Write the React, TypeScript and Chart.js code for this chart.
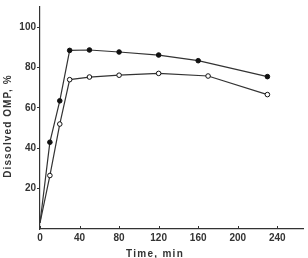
import React, { useEffect, useRef } from "react";
import { Chart, registerables } from "chart.js";

Chart.register(...registerables);

const timeFilled = [0, 10, 20, 30, 50, 80, 120, 160, 230];
const filledValues = [3, 43, 63.5, 88.5, 88.7, 87.7, 86.2, 83.4, 75.5];
const timeOpen = [0, 10, 20, 30, 50, 80, 120, 170, 230];
const openValues = [3, 26.5, 52, 74, 75.3, 76.2, 77.1, 75.8, 66.6];
const xTickValues = [0, 40, 80, 120, 160, 200, 240];
const yTickValues = [20, 40, 60, 80, 100];
const xTitle = "Time, min";
const yTitle = "Dissolved OMP, %";

const INK = "#333";
const FONT = "'Liberation Sans', Arial, sans-serif";

const extras = {
  id: "extras",
  afterDraw(chart: any) {
    const x = chart.scales.x;
    const ctx = chart.ctx;
    ctx.save();
    ctx.strokeStyle = INK;
    ctx.lineWidth = 1;
    const y0 = chart.chartArea.bottom;
    xTickValues.forEach((v) => {
      const px = Math.round(x.getPixelForValue(v)) + 0.5;
      ctx.beginPath();
      ctx.moveTo(px, y0);
      ctx.lineTo(px, y0 - 3);
      ctx.stroke();
    });
    ctx.fillStyle = INK;
    ctx.font = "bold 10px " + FONT;
    ctx.textAlign = "center";
    ctx.textBaseline = "middle";
    (ctx as any).letterSpacing = "1.3px";
    ctx.fillText(xTitle, 155, 254);
    (ctx as any).letterSpacing = "1.1px";
    ctx.translate(8, 126);
    ctx.rotate(-Math.PI / 2);
    ctx.fillText(yTitle, 0, 0);
    ctx.restore();
  },
};

export default function App() {
  const ref = useRef<HTMLCanvasElement | null>(null);
  useEffect(() => {
    if (!ref.current) return;
    const chart = new Chart(ref.current, {
      type: "line",
      data: {
        datasets: [
          {
            data: timeFilled.map((t, i) => ({ x: t, y: filledValues[i] })),
            borderColor: INK,
            borderWidth: 1.2,
            pointBackgroundColor: "#111",
            pointBorderColor: "#111",
            pointRadius: timeFilled.map((t) => (t === 0 ? 0 : 2.3)),
            pointBorderWidth: 1,
            tension: 0,
          },
          {
            data: timeOpen.map((t, i) => ({ x: t, y: openValues[i] })),
            borderColor: INK,
            borderWidth: 1.2,
            pointBackgroundColor: "#fff",
            pointBorderColor: "#111",
            pointRadius: timeOpen.map((t) => (t === 0 ? 0 : 2.3)),
            pointBorderWidth: 1,
            tension: 0,
          },
        ],
      },
      options: {
        animation: false,
        responsive: false,
        layout: { padding: { top: 6, right: 2, left: 0, bottom: 0 } },
        plugins: { legend: { display: false }, tooltip: { enabled: false } },
        scales: {
          x: {
            type: "linear",
            min: 0,
            max: 266,
            afterBuildTicks: (s: any) => {
              s.ticks = xTickValues.map((v) => ({ value: v }));
            },
            afterFit: (s: any) => {
              s.height = 29;
            },
            border: { display: true, color: INK, width: 1.2 },
            grid: { display: true, drawOnChartArea: false, drawTicks: false },
            ticks: {
              padding: 3,
              color: INK,
              font: { family: FONT, size: 10, weight: "bold" },
              maxRotation: 0,
            },
          },
          y: {
            type: "linear",
            min: 0,
            max: 110,
            afterBuildTicks: (s: any) => {
              s.ticks = yTickValues.map((v) => ({ value: v }));
            },
            afterFit: (s: any) => {
              s.width = 40;
            },
            border: { display: true, color: INK, width: 1.2 },
            grid: { display: true, drawOnChartArea: false, drawTicks: true, tickLength: 3, color: INK },
            ticks: {
              padding: 1,
              color: INK,
              font: { family: FONT, size: 10, weight: "bold" },
            },
          },
        },
      },
      plugins: [extras],
    } as any);
    return () => chart.destroy();
  }, []);
  return (
    <div style={{ position: "fixed", left: 0, top: 0, width: 308, height: 258, background: "#fff" }}>
      <canvas ref={ref} width={308} height={258} style={{ display: "block", width: 308, height: 258 }} />
    </div>
  );
}
